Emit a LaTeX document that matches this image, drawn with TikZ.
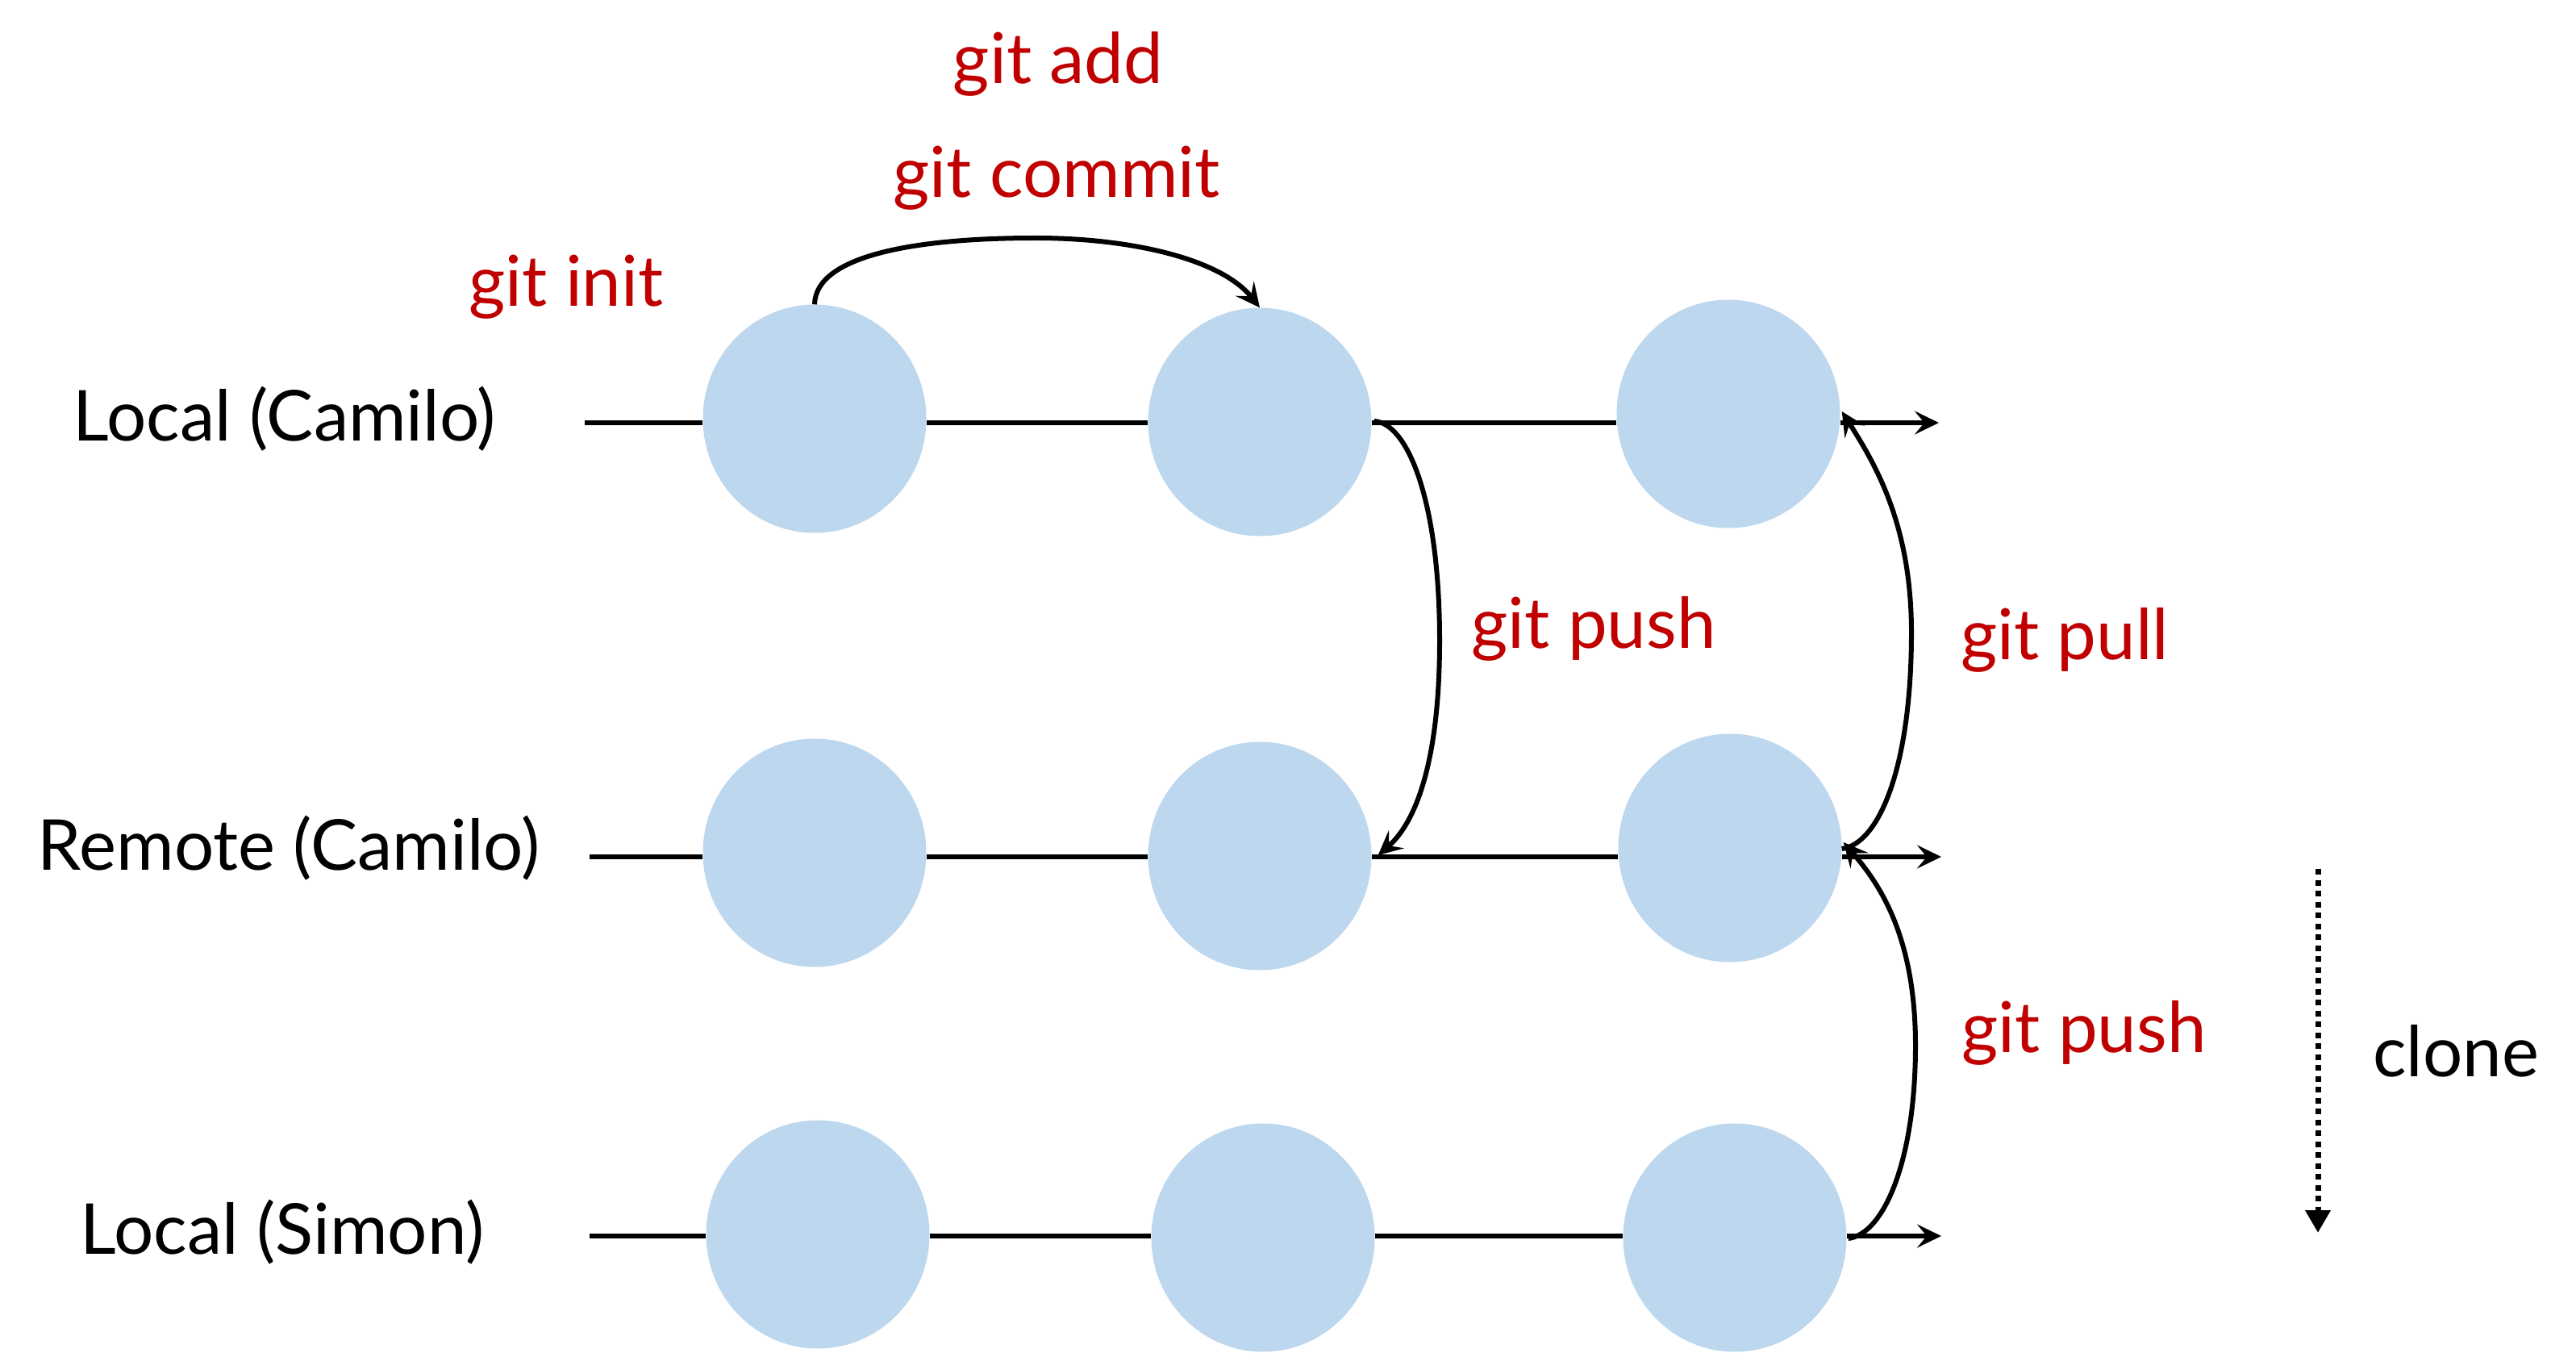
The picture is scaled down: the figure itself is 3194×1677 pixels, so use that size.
\documentclass[tikz,border=0pt]{standalone}
\usepackage{fontspec}
\setmainfont{Lato}
\usetikzlibrary{arrows.meta,shapes.geometric}
\definecolor{cred}{RGB}{192,0,0}
\definecolor{cblue}{RGB}{189,215,238}
\begin{document}
\begin{tikzpicture}[x=1pt,y=-1pt,
  commit/.style={ellipse,fill=cblue,draw=none,minimum width=277pt,minimum height=283pt,inner sep=0pt},
  lbl/.style={anchor=base,font=\fontsize{87}{100}\selectfont,inner sep=0pt},
  cmd/.style={lbl,text=cred},
  flow/.style={line width=6pt},
  tipa/.style={-{Stealth[length=30pt,width=29pt,inset=12pt]}},
  clonearrow/.style={line width=7pt,dash pattern=on 7pt off 6.5pt,-{Triangle[length=28pt,width=30pt]}}]
\useasboundingbox (0,0) rectangle (3194,1677);
% commits
\node[commit] (c11) at (1010,519) {};
\node[commit] (c12) at (1562,523) {};
\node[commit] (c13) at (2143,513) {};
\node[commit] (c21) at (1010,1057) {};
\node[commit] (c22) at (1562,1061) {};
\node[commit] (c23) at (2145,1051) {};
\node[commit] (c31) at (1014,1530) {};
\node[commit] (c32) at (1566,1534) {};
\node[commit] (c33) at (2151,1534) {};
% line ends
\coordinate (s1) at (725,524);
\coordinate (e1) at (2404,524);
\coordinate (s2) at (731,1062);
\coordinate (e2) at (2407,1062);
\coordinate (s3) at (731,1532);
\coordinate (e3) at (2407,1532);
% timelines
\draw[flow] (s1) -- (c11.west |- s1);
\draw[flow] (c11.east |- s1) -- (c12.west |- s1);
\draw[flow] (c12.east |- s1) -- (c13.west |- s1);
\draw[flow,tipa] (c13.east |- s1) -- (e1);
\draw[flow] (s2) -- (c21.west |- s2);
\draw[flow] (c21.east |- s2) -- (c22.west |- s2);
\draw[flow] (c22.east |- s2) -- (c23.west |- s2);
\draw[flow,tipa] (c23.east |- s2) -- (e2);
\draw[flow] (s3) -- (c31.west |- s3);
\draw[flow] (c31.east |- s3) -- (c32.west |- s3);
\draw[flow] (c32.east |- s3) -- (c33.west |- s3);
\draw[flow,tipa] (c33.east |- s3) -- (e3);
% git add / commit arc
\draw[flow,tipa] (c11.north) .. controls (1011,318) and (1130,295) .. (1284,295)
  .. controls (1405,295) and (1515,322) .. (c12.north);
% git push local -> remote
\draw[flow,tipa] ([xshift=3pt,yshift=1pt]c12.east) .. controls (1745,524) and (1785,620) .. (1785,794)
  .. controls (1785,945) and (1755,1020) .. ([xshift=8pt,yshift=1pt]c22.east);
% git pull remote -> local
\draw[flow,tipa] ([yshift=-1pt]c23.east) .. controls (2330,1046) and (2370,950) .. (2370,784)
  .. controls (2370,650) and (2325,575) .. ([xshift=2pt,yshift=3pt]c13.east);
% git push simon -> remote
\draw[flow,tipa] ([xshift=2pt,yshift=-1pt]c33.east) .. controls (2335,1530) and (2375,1440) .. (2375,1296)
  .. controls (2375,1160) and (2330,1095) .. ([xshift=2pt,yshift=7pt]c23.east);
% clone
\coordinate (k1) at (2874,1077);
\coordinate (k2) at (2874,1528);
\draw[clonearrow] (k1) -- (k2);
% labels
\node[lbl] (lc) at (353,546) {Local (Camilo)};
\node[lbl] (rc) at (358,1078) {Remote (Camilo)};
\node[lbl] (ls) at (350,1554) {Local (Simon)};
\node[cmd] (gadd) at (1312,104) {git add};
\node[cmd] (gcommit) at (1310,245) {git commit};
\node[cmd] (ginit) at (702,380) {git init};
\node[cmd] (gpush1) at (1976,803) {git push};
\node[cmd] (gpull) at (2560,817) {git pull};
\node[cmd] (gpush2) at (2584,1304) {git push};
\node[lbl] (clone) at (3045,1334) {clone};
\end{tikzpicture}
\end{document}
